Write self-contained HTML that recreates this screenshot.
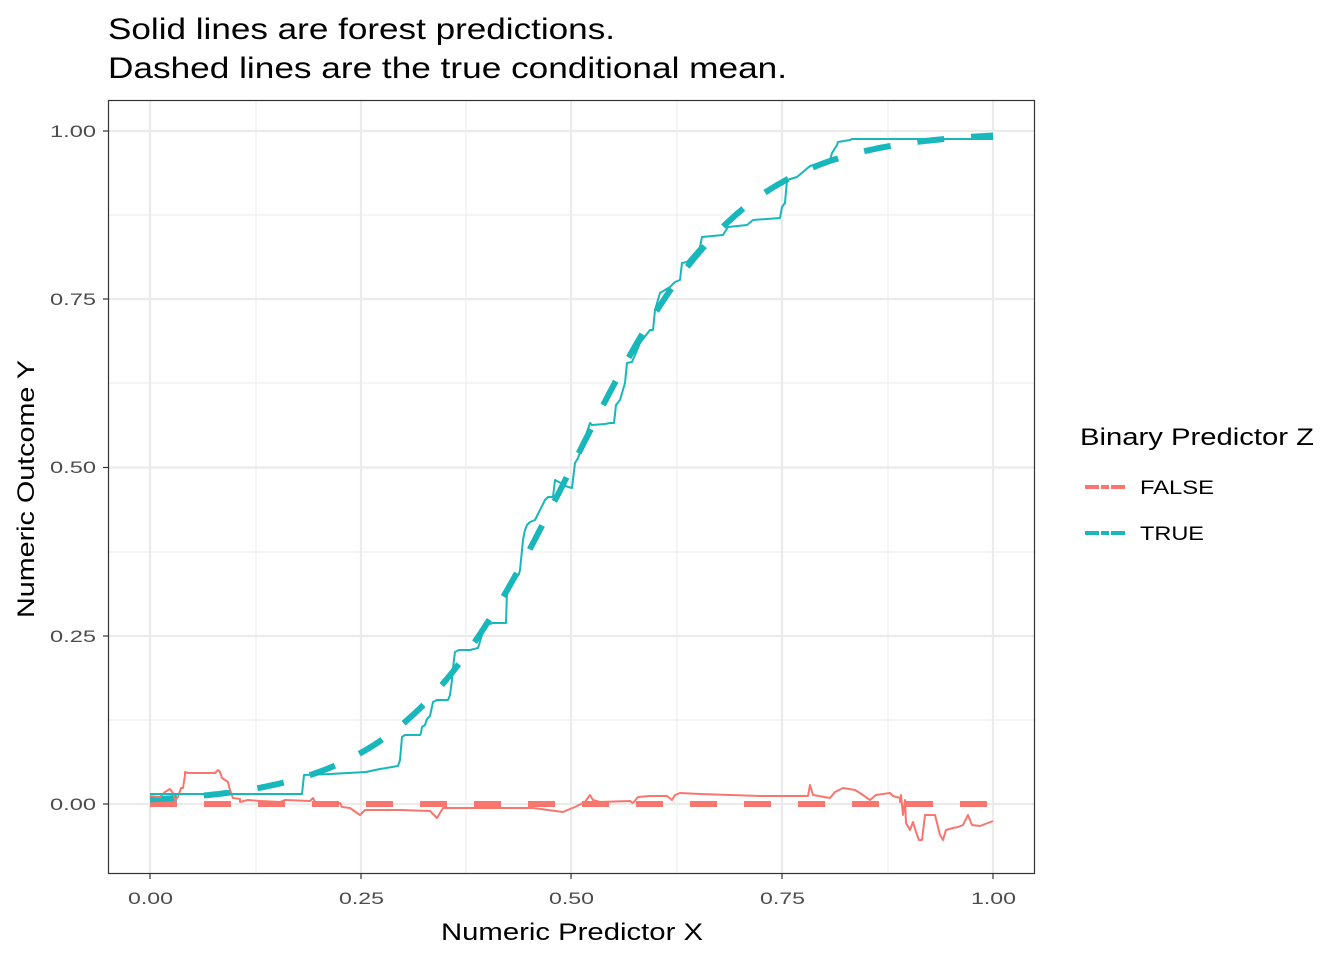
<!DOCTYPE html>
<html><head><meta charset="utf-8"><style>
body{margin:0;background:#fff}
svg text{font-family:"Liberation Sans",Arial,sans-serif}
</style></head><body>
<svg id="s" width="1344" height="960" viewBox="0 0 1344 960" xmlns="http://www.w3.org/2000/svg">
<rect width="1344" height="960" fill="#fff"/>
<text x="108" y="39" font-size="30" fill="#000" textLength="507" lengthAdjust="spacingAndGlyphs">Solid lines are forest predictions.</text>
<text x="108" y="78" font-size="30" fill="#000" textLength="679" lengthAdjust="spacingAndGlyphs">Dashed lines are the true conditional mean.</text>
<g stroke="#ebebeb" stroke-width="1">
<line x1="256" y1="100" x2="256" y2="874"/><line x1="466" y1="100" x2="466" y2="874"/>
<line x1="677" y1="100" x2="677" y2="874"/><line x1="888" y1="100" x2="888" y2="874"/>
<line x1="108" y1="215" x2="1035" y2="215"/><line x1="108" y1="383" x2="1035" y2="383"/>
<line x1="108" y1="552" x2="1035" y2="552"/><line x1="108" y1="720" x2="1035" y2="720"/>
</g>
<g stroke="#ebebeb" stroke-width="2.2">
<line x1="150" y1="100" x2="150" y2="874"/><line x1="361" y1="100" x2="361" y2="874"/>
<line x1="571" y1="100" x2="571" y2="874"/><line x1="782" y1="100" x2="782" y2="874"/>
<line x1="993" y1="100" x2="993" y2="874"/>
<line x1="108" y1="131" x2="1035" y2="131"/><line x1="108" y1="299" x2="1035" y2="299"/>
<line x1="108" y1="467.5" x2="1035" y2="467.5"/><line x1="108" y1="636" x2="1035" y2="636"/>
<line x1="108" y1="804" x2="1035" y2="804"/>
</g>
<line x1="150" y1="804" x2="993" y2="804" stroke="#F8766D" stroke-width="6" stroke-dasharray="27 27"/>
<path id="dt" fill="none" stroke="#17B7BB" stroke-width="6" stroke-dasharray="27 27" d=""/>
<polyline fill="none" stroke="#F8766D" stroke-width="2" stroke-linejoin="round" points="150,796 160,797 165,792 170,789 173,793 175,800 178,797 181,788 183,788 185,775 185,772 188,773 215,773 218,770 220,772 222,778 228,782 230,790 233,798 240,799 240,802 248,800 260,801 280,802 285,800 310,801 313,798 315,802 340,803 342,807 350,808 360,815 365,810 387,810 400,810 430,811 434,815 437,818 440,813 443,808 500,808 533,808 563,812 570,809 575,807 585,802 590,795 593,800 600,802 630,801 633,803 638,797 650,796 667,796 672,800 675,795 680,793 700,794 760,796 808,796 810,785 813,795 830,798 835,792 843,788 855,790 860,793 870,800 876,795 890,793 893,796 900,798 900,802 901,795 903,815 905,800 906,823 910,830 913,822 916,832 919,840 922,840 925,815 935,815 940,835 943,840 946,830 953,828 958,827 963,825 968,815 972,825 980,826 993,821"/>
<polyline fill="none" stroke="#17B7BB" stroke-width="2" stroke-linejoin="round" points="150,794 302,794 304,775 330,774 366,772 380,769 398,766 400,760 402,737 405,735 420,735 421,733 422,727 425,725 427,719 430,716 433,702 437,700 448,700 450,695 452,680 453,668 455,652 459,650 470,650 478,648 482,635 486,625 493,623 506,623 507,592 515,580 519,574 520,570 523,540 525,530 527,525 530,522 535,520 540,510 545,500 548,497 553,497 555,480 568,487 572,488 575,463 578,458 581,450 590,423 592,425 605,424 610,423 614,423 616,405 620,400 625,383 627,363 632,362 640,343 650,330 653,330 655,310 660,293 670,287 675,282 680,280 682,263 687,262 700,247 702,237 723,235 728,227 747,225 753,220 780,218 782,207 785,203 787,180 797,177 810,166 820,163 830,160 832,153 837,145 838,142 850,140 852,139 993,139"/>
<rect x="108.5" y="100.5" width="926" height="773" fill="none" stroke="#333" stroke-width="1.2"/>
<g stroke="#333" stroke-width="1.2">
<line x1="103" y1="131" x2="108" y2="131"/><line x1="103" y1="299" x2="108" y2="299"/><line x1="103" y1="467.5" x2="108" y2="467.5"/><line x1="103" y1="636" x2="108" y2="636"/><line x1="103" y1="804" x2="108" y2="804"/>
<line x1="150" y1="874" x2="150" y2="879"/><line x1="361" y1="874" x2="361" y2="879"/><line x1="571" y1="874" x2="571" y2="879"/><line x1="782" y1="874" x2="782" y2="879"/><line x1="993" y1="874" x2="993" y2="879"/>
</g>
<g font-size="17" fill="#4d4d4d">
<text x="50" y="137" textLength="46" lengthAdjust="spacingAndGlyphs">1.00</text><text x="50" y="305" textLength="46" lengthAdjust="spacingAndGlyphs">0.75</text><text x="50" y="473" textLength="46" lengthAdjust="spacingAndGlyphs">0.50</text><text x="50" y="642" textLength="46" lengthAdjust="spacingAndGlyphs">0.25</text><text x="50" y="810" textLength="46" lengthAdjust="spacingAndGlyphs">0.00</text>
<text x="128" y="904" textLength="45" lengthAdjust="spacingAndGlyphs">0.00</text><text x="339" y="904" textLength="45" lengthAdjust="spacingAndGlyphs">0.25</text><text x="549" y="904" textLength="45" lengthAdjust="spacingAndGlyphs">0.50</text><text x="760" y="904" textLength="45" lengthAdjust="spacingAndGlyphs">0.75</text><text x="971" y="904" textLength="45" lengthAdjust="spacingAndGlyphs">1.00</text>
</g>
<text x="441" y="940" font-size="24" fill="#000" textLength="262" lengthAdjust="spacingAndGlyphs">Numeric Predictor X</text>
<text transform="translate(34,618) rotate(-90)" font-size="24" fill="#000" textLength="258" lengthAdjust="spacingAndGlyphs">Numeric Outcome Y</text>
<text x="1080" y="445" font-size="24" fill="#000" textLength="234" lengthAdjust="spacingAndGlyphs">Binary Predictor Z</text>
<line x1="1085" y1="487" x2="1125" y2="487" stroke="#F8766D" stroke-width="4" stroke-dasharray="14 2 8 2 14"/>
<line x1="1085" y1="533" x2="1125" y2="533" stroke="#17B7BB" stroke-width="4" stroke-dasharray="14 2 8 2 14"/>
<text x="1140" y="494" font-size="19" fill="#000" textLength="74" lengthAdjust="spacingAndGlyphs">FALSE</text>
<text x="1140" y="540" font-size="19" fill="#000" textLength="64" lengthAdjust="spacingAndGlyphs">TRUE</text>
</svg>
<script>
var d="";for(var i=0;i<=200;i++){var x=i/200,v=1/(1+Math.exp(-10*(x-0.5)));d+=(i?"L":"M")+(150+843*x).toFixed(1)+","+(804-673*v).toFixed(1);}
document.getElementById("dt").setAttribute("d",d);
</script>
</body></html>
